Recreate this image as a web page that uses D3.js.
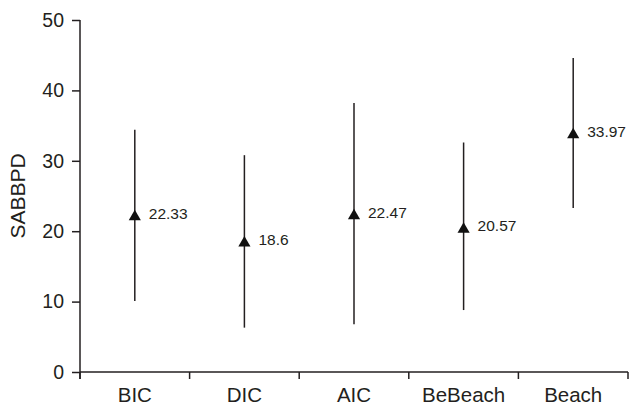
<!DOCTYPE html>
<html>
<head>
<meta charset="utf-8">
<script src="https://cdn.jsdelivr.net/npm/d3@7/dist/d3.min.js"></script>
<style>
  html, body { margin: 0; padding: 0; background: #fff; }
  svg { display: block; font-family: "Liberation Sans", Arial, Helvetica, sans-serif; }
</style>
</head>
<body>
<svg id="chart" width="633" height="405"></svg>
<script>
const categories = ["BIC", "DIC", "AIC", "BeBeach", "Beach"];
const means = [22.33, 18.6, 22.47, 20.57, 33.97];
const upper = [34.4, 30.8, 38.2, 32.6, 44.6];
const lower = [10.1, 6.3, 6.8, 8.8, 23.3];
const meanLabels = ["22.33", "18.6", "22.47", "20.57", "33.97"];
const yTicks = [0, 10, 20, 30, 40, 50];
const yTitle = "SABBPD";

const svg = d3.select("#chart");
const ink = "#231f20";
const margin = { left: 80, right: 5, top: 20, bottom: 33 };
const W = 633, H = 405;

const x = d3.scaleBand().domain(categories).range([margin.left, W - margin.right]).padding(0);
const y = d3.scaleLinear().domain([0, 50]).range([H - margin.bottom, margin.top]);

// X axis with ticks at band boundaries
const xAxisG = svg.append("g").attr("transform", `translate(0,${y(0)})`);
xAxisG.append("line")
  .attr("x1", x.range()[0]).attr("x2", x.range()[1])
  .attr("stroke", ink).attr("stroke-width", 1.5);
const bounds = categories.map(c => x(c)).concat([x.range()[1]]);
xAxisG.selectAll("line.tick").data(bounds).enter().append("line")
  .attr("class", "tick")
  .attr("x1", d => d).attr("x2", d => d)
  .attr("y1", 0).attr("y2", 7)
  .attr("stroke", ink).attr("stroke-width", 1.5);
xAxisG.selectAll("text").data(categories).enter().append("text")
  .attr("x", d => x(d) + x.bandwidth() / 2)
  .attr("y", 30)
  .attr("text-anchor", "middle")
  .attr("font-size", "20.5px")
  .attr("fill", ink)
  .text(d => d);

// Y axis
const yAxis = d3.axisLeft(y).tickValues(yTicks).tickSize(8).tickPadding(8).tickSizeOuter(0);
const yAxisG = svg.append("g").attr("transform", `translate(${margin.left},0)`).call(yAxis);
yAxisG.select(".domain").attr("stroke", ink).attr("stroke-width", 1.5)
  .attr("d", `M0,${y(50)}V${y(0) + 7}`);
yAxisG.selectAll(".tick line").attr("stroke", ink).attr("stroke-width", 1.5);
yAxisG.selectAll(".tick text").attr("font-size", "19.5px").attr("fill", ink)
  .attr("font-family", "Liberation Sans, Arial, sans-serif");

// Y title
svg.append("text")
  .attr("transform", `translate(25,196) rotate(-90)`)
  .attr("text-anchor", "middle")
  .attr("font-size", "21px")
  .attr("fill", ink)
  .text(yTitle);

// Error bars
const cx = i => x(categories[i]) + x.bandwidth() / 2;
svg.selectAll("line.err").data(means).enter().append("line")
  .attr("class", "err")
  .attr("x1", (d, i) => cx(i)).attr("x2", (d, i) => cx(i))
  .attr("y1", (d, i) => y(upper[i])).attr("y2", (d, i) => y(lower[i]))
  .attr("stroke", ink).attr("stroke-width", 1.5);

// Triangle markers
const tri = d3.symbol().type(d3.symbolTriangle).size(64);
svg.selectAll("path.mk").data(means).enter().append("path")
  .attr("class", "mk")
  .attr("d", tri)
  .attr("transform", (d, i) => `translate(${cx(i)},${y(d) + 2})`)
  .attr("fill", "#111");

// Value labels
svg.selectAll("text.val").data(means).enter().append("text")
  .attr("class", "val")
  .attr("x", (d, i) => cx(i) + 14)
  .attr("y", d => y(d))
  .attr("dy", "0.25em")
  .attr("font-size", "15.5px")
  .attr("fill", ink)
  .text((d, i) => meanLabels[i]);
</script>
</body>
</html>
